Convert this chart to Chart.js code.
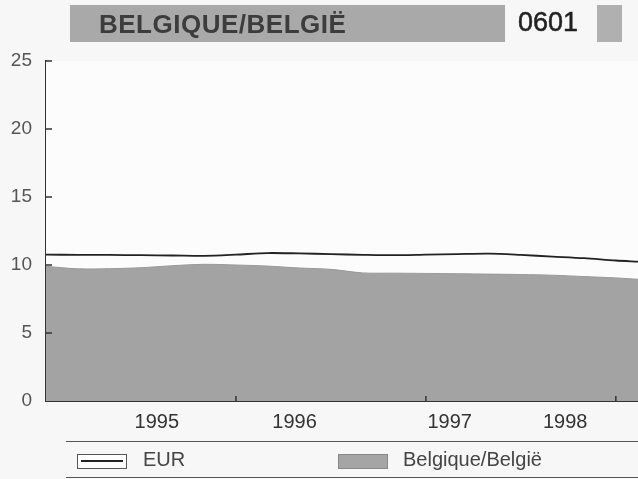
<!DOCTYPE html>
<html>
<head>
<meta charset="utf-8">
<script src="https://cdn.jsdelivr.net/npm/chart.js@4.4.1/dist/chart.umd.min.js"></script>
<style>
  html, body { margin: 0; padding: 0; background: #f7f7f7; }
  #wrap { position: relative; width: 638px; height: 479px; overflow: hidden; font-family: "Liberation Sans", Arial, sans-serif; }
  #chart { position: absolute; left: 0; top: 0; }
  .titlebar { position: absolute; left: 70px; top: 5px; width: 435px; height: 37px; background: #a9a9a9; }
  .titlebar span { position: absolute; left: 29px; top: 4px; font-size: 26px; font-weight: bold; color: #3c3c3c; letter-spacing: 0.5px; }
  .code { position: absolute; left: 518px; top: 7px; font-size: 27px; color: #222; -webkit-text-stroke: 0.5px #222; }
  .codeblock { position: absolute; left: 597px; top: 5px; width: 25px; height: 37px; background: #b0b0b0; }
  .rule { position: absolute; left: 66px; width: 572px; height: 0; border-top: 1.5px solid #555; }
  .swatch { position: absolute; top: 454px; width: 48px; height: 13px; border: 1px solid #555; }
  .swatch.eur { left: 77px; background: #fff; }
  .swatch.eur::after { content: ""; position: absolute; left: 3px; right: 3px; top: 5px; border-top: 2px solid #222; }
  .swatch.be { left: 338px; background: #a5a5a5; border-color: #888; }
  .lbl { position: absolute; top: 448px; font-size: 20px; color: #444; }
</style>
</head>
<body>
<div id="wrap">
  <canvas id="chart" width="638" height="479"></canvas>
  <div class="titlebar"><span>BELGIQUE/BELGIË</span></div>
  <div class="code">0601</div>
  <div class="codeblock"></div>
  <div class="rule" style="top:441px"></div>
  <div class="rule" style="top:477px"></div>
  <div class="swatch eur"></div>
  <div class="lbl" style="left:143px">EUR</div>
  <div class="swatch be"></div>
  <div class="lbl" style="left:403px">Belgique/België</div>
</div>
<script>
// months counted from the left edge of the plot
const months = [0, 2, 4, 6, 8, 10, 12, 14, 16, 18, 20, 22, 24, 26, 28, 30, 32, 34, 36, 37.4];
const eur = [10.76, 10.75, 10.74, 10.72, 10.70, 10.67, 10.76, 10.88, 10.85, 10.80, 10.75, 10.72, 10.76, 10.80, 10.83, 10.74, 10.62, 10.50, 10.33, 10.25];
const belgium = [9.9, 9.72, 9.73, 9.8, 9.95, 10.05, 10.0, 9.92, 9.78, 9.68, 9.42, 9.4, 9.38, 9.36, 9.33, 9.3, 9.25, 9.15, 9.05, 8.95];

const yearLabels = ['1995', '1996', '1997', '1998'];
const yearLabelAt = [7, 15.7, 25.5, 32.8];
const yearBreaks = [12, 24, 36];
const yTicks = [0, 5, 10, 15, 20, 25];

function toPoints(values) {
    return months.map((m, i) => ({ x: m, y: values[i] }));
}

// plot background + small tick marks drawn inward from both axes
const innerTicks = {
    id: 'innerTicks',
    beforeDatasetsDraw(chart) {
        const { ctx, chartArea } = chart;
        ctx.save();
        ctx.fillStyle = '#fcfcfc';
        ctx.fillRect(chartArea.left, chartArea.top, chartArea.right - chartArea.left, chartArea.bottom - chartArea.top);
        ctx.restore();
    },
    afterDatasetsDraw(chart) {
        const { ctx, chartArea, scales } = chart;
        ctx.save();
        ctx.strokeStyle = '#333';
        ctx.lineWidth = 1.5;
        yTicks.forEach(v => {
            if (v === 0) return;
            const y = scales.y.getPixelForValue(v);
            ctx.beginPath();
            ctx.moveTo(chartArea.left, y);
            ctx.lineTo(chartArea.left + 6, y);
            ctx.stroke();
        });
        yearBreaks.forEach(v => {
            const x = scales.x.getPixelForValue(v);
            ctx.beginPath();
            ctx.moveTo(x, chartArea.bottom);
            ctx.lineTo(x, chartArea.bottom - 5);
            ctx.stroke();
        });
        ctx.restore();
    }
};

new Chart(document.getElementById('chart'), {
    type: 'line',
    data: {
        datasets: [
            {
                label: 'EUR',
                data: toPoints(eur),
                borderColor: '#222',
                borderWidth: 1.8,
                pointRadius: 0,
                tension: 0.3,
                fill: false
            },
            {
                label: 'Belgique/België',
                data: toPoints(belgium),
                borderColor: '#9a9a9a',
                borderWidth: 1,
                backgroundColor: '#a3a3a3',
                pointRadius: 0,
                tension: 0.3,
                fill: 'origin'
            }
        ]
    },
    options: {
        responsive: false,
        animation: false,
        layout: { padding: { top: 61, right: 0, bottom: 0, left: 0 } },
        plugins: {
            legend: { display: false },
            tooltip: { enabled: false }
        },
        scales: {
            x: {
                type: 'linear',
                min: 0,
                max: 37.4,
                afterFit: s => { s.height = 78; },
                afterBuildTicks: s => { s.ticks = yearLabelAt.map(v => ({ value: v })); },
                grid: { display: false, drawTicks: false },
                border: { display: true, color: '#333', width: 2 },
                ticks: {
                    padding: 9,
                    autoSkip: false,
                    maxRotation: 0,
                    color: '#333',
                    font: { family: 'Liberation Sans', size: 20 },
                    callback: v => yearLabels[yearLabelAt.indexOf(v)]
                }
            },
            y: {
                min: 0,
                max: 25,
                afterFit: s => { s.width = 46; },
                afterBuildTicks: s => { s.ticks = yTicks.map(v => ({ value: v })); },
                grid: { display: false, drawTicks: false },
                border: { display: true, color: '#333', width: 1.5 },
                ticks: {
                    padding: 14,
                    color: '#555',
                    font: { family: 'Liberation Sans', size: 19 }
                }
            }
        }
    },
    plugins: [innerTicks]
});
</script>
</body>
</html>
